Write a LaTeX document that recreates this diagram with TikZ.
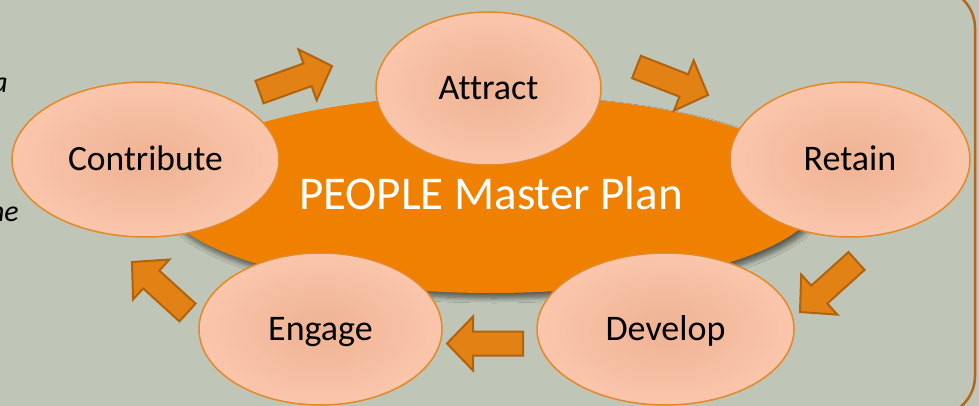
\documentclass[tikz,border=0pt]{standalone}
\usepackage{fontspec}
\setmainfont{Carlito}[Ligatures=NoCommon]
\usetikzlibrary{shapes.geometric,calc,shadows.blur}
\definecolor{bggray}{RGB}{191,198,184}
\definecolor{framebrown}{RGB}{178,104,28}
\definecolor{planorange}{RGB}{240,128,0}
\definecolor{ovalline}{RGB}{228,136,40}
\definecolor{ovalin}{RGB}{239,178,147}
\definecolor{ovalout}{RGB}{250,198,172}
\definecolor{arrowfill}{RGB}{227,130,20}
\definecolor{arrowline}{RGB}{178,98,12}
\newcommand\drawflow[2]{%
  \path ($(#2)!26pt!(#1)$) coordinate (#1base);
  \draw[flow] ($(#1)!12pt!90:(#2)$) -- ($(#1base)!12pt!-90:(#1)$)
    -- ($(#1base)!27pt!-90:(#1)$) -- (#2) -- ($(#1base)!27pt!90:(#1)$)
    -- ($(#1base)!12pt!90:(#1)$) -- ($(#1)!12pt!-90:(#2)$) -- cycle;}
\begin{document}
\begin{tikzpicture}[x=1pt,y=-1pt,
  stage/.style={ellipse, draw=ovalline, line width=1.5pt, inner color=ovalin,
    outer color=ovalout, inner sep=0pt, text height=23pt, text depth=0pt,
    font=\fontsize{36}{40}\selectfont},
  plan/.style={ellipse, fill=planorange, inner sep=0pt, text=white,
    text height=30pt, text depth=0pt, font=\fontsize{47}{52}\selectfont,
    blur shadow={shadow xshift=3pt, shadow yshift=-5pt, shadow blur steps=8,
      shadow blur radius=5pt, shadow opacity=55}},
  flow/.style={fill=arrowfill, draw=arrowline, line width=2pt, line join=miter},
  frag/.style={anchor=base east, inner sep=0pt, font=\itshape\fontsize{30}{34}\selectfont}]
\useasboundingbox (0,0) rectangle (979,406);
\fill[bggray] (0,0) rectangle (979,406);
\draw[framebrown, line width=2.5pt, rounded corners=40pt] (-60,-12) rectangle (975,416);
\node[frag] (fraga) at (8,93) {a};
\node[frag] (fragb) at (19,222) {he};
\node[plan, minimum width=660, minimum height=198] (plan) at (491,194) {PEOPLE Master Plan};
\node[stage, minimum width=267, minimum height=155, text height=22.7pt, font=\fontsize{35.5}{40}\selectfont] (contribute) at (145.5,159.5) {Contribute};
\node[stage, minimum width=225, minimum height=153] (attract) at (488.5,88.5) {Attract};
\node[stage, minimum width=240, minimum height=155] (retain) at (850,159.5) {Retain};
\node[stage, minimum width=257, minimum height=152] (develop) at (665.5,329) {Develop};
\node[stage, minimum width=243, minimum height=152] (engage) at (320.5,329) {Engage};
\coordinate (ta) at (259.5,92);  \coordinate (ha) at (332,66);
\coordinate (tb) at (636.5,67);  \coordinate (hb) at (708,95);
\coordinate (tc) at (856.5,261); \coordinate (hc) at (800,312);
\coordinate (td) at (523,343.5); \coordinate (hd) at (447,343.5);
\coordinate (te) at (187.5,312.5); \coordinate (he) at (132,262);
\drawflow{ta}{ha}
\drawflow{tb}{hb}
\drawflow{tc}{hc}
\drawflow{td}{hd}
\drawflow{te}{he}
\end{tikzpicture}
\end{document}
